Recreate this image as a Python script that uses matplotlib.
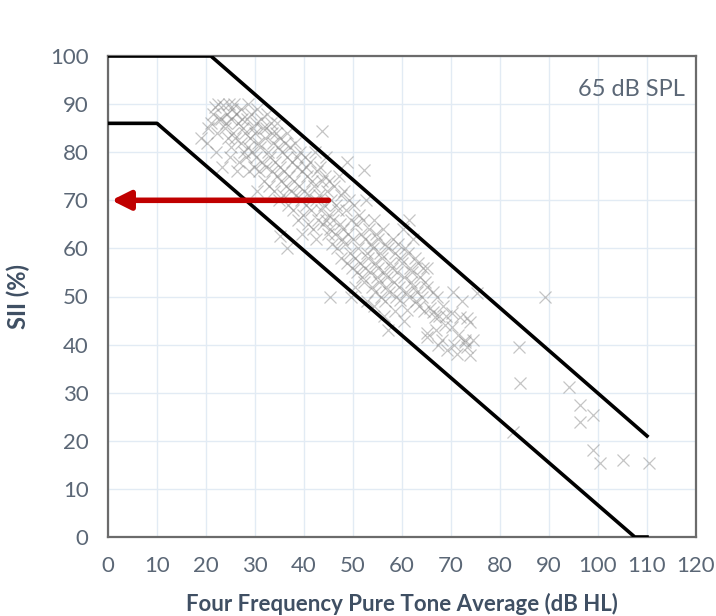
import matplotlib.pyplot as plt

# boundary lines of the expected SII range
upper_x = [0, 21, 110]
upper_y = [100, 100, 21]
lower_x = [0, 10, 107.5, 110]
lower_y = [86, 86, 0, 0]

# four frequency PTA (dB HL) and SII (%) per ear
pta = [
    19.0, 20.2, 20.5, 21.4, 21.0, 21.8, 22.3, 22.0, 22.6, 22.4,
    23.5, 23.1, 23.8, 23.3, 24.2, 24.6, 24.0, 24.4, 24.8, 25.3,
    25.0, 25.6, 25.2, 25.8, 26.2, 26.5, 26.0, 26.8, 26.4, 27.1,
    27.5, 27.2, 27.8, 27.4, 28.3, 28.0, 28.6, 28.2, 28.8, 28.5,
    29.2, 29.6, 29.0, 29.4, 29.8, 30.3, 30.0, 30.6, 30.2, 30.8,
    30.5, 30.4, 31.2, 31.6, 31.0, 31.4, 31.8, 32.3, 32.0, 32.6,
    32.2, 32.8, 32.5, 33.2, 33.6, 33.0, 33.4, 33.8, 33.5, 34.2,
    34.6, 34.0, 34.4, 34.8, 34.5, 35.2, 35.6, 35.0, 35.4, 35.8,
    35.1, 36.2, 36.6, 36.0, 36.4, 36.8, 36.5, 37.2, 37.6, 37.0,
    37.4, 37.8, 36.6, 38.2, 38.6, 38.0, 38.4, 38.8, 38.5, 39.2,
    39.6, 39.0, 39.4, 39.8, 39.5, 40.2, 40.6, 40.0, 40.4, 40.8,
    40.5, 41.2, 41.6, 41.0, 41.4, 41.8, 42.2, 42.6, 42.0, 42.4,
    42.8, 42.5, 43.2, 43.6, 43.0, 43.4, 43.8, 43.7, 44.2, 44.6,
    44.0, 44.4, 44.8, 44.5, 45.2, 45.6, 45.0, 45.4, 45.8, 45.3,
    46.2, 46.6, 46.0, 46.4, 46.8, 47.2, 47.6, 47.0, 47.4, 47.8,
    47.5, 48.2, 48.6, 48.0, 48.4, 48.8, 48.8, 49.2, 49.6, 49.0,
    49.4, 49.8, 49.5, 50.2, 50.6, 50.0, 50.4, 50.8, 50.5, 51.2,
    51.6, 51.0, 51.4, 51.8, 52.2, 52.6, 52.0, 52.4, 52.8, 52.5,
    52.3, 52.9, 53.2, 53.6, 53.0, 53.4, 53.8, 54.2, 54.6, 54.0,
    54.4, 54.8, 54.5, 54.3, 55.2, 55.6, 55.0, 55.4, 55.8, 56.2,
    56.6, 56.0, 56.4, 56.8, 56.5, 56.3, 57.2, 57.6, 57.0, 57.4,
    57.1, 58.2, 58.6, 58.0, 58.4, 58.8, 58.5, 59.2, 59.6, 59.0,
    59.4, 59.6, 60.2, 60.6, 60.0, 60.4, 60.8, 61.0, 60.5, 61.5,
    61.2, 61.6, 61.8, 61.4, 62.2, 62.6, 62.0, 62.4, 62.8, 63.2,
    63.6, 63.0, 63.4, 64.2, 64.6, 64.0, 64.4, 65.1, 65.0, 65.7,
    65.0, 65.1, 66.3, 66.7, 66.4, 67.2, 67.6, 67.0, 67.4, 68.2,
    68.4, 68.8, 69.2, 69.0, 70.4, 70.2, 70.2, 70.6, 71.8, 71.4,
    71.2, 72.2, 72.9, 73.3, 72.9, 73.9, 73.2, 73.9, 74.4, 75.3,
    89.2, 83.9, 84.0, 94.1, 96.3, 99.0, 96.3, 99.0, 100.4, 105.0,
    110.4, 82.6,
]
sii = [
    83, 82, 85, 88, 86, 89.5, 84, 80, 87, 90,
    89.8, 87, 85, 77, 88, 90, 86, 83, 79, 89,
    87, 84, 81, 90, 88, 86, 83, 78, 76, 89,
    85, 82, 80, 87, 87, 84, 81, 79, 76, 90,
    88, 85, 83, 80, 77, 86, 84, 82, 79, 76,
    89, 72, 87, 85, 81, 78, 74, 85, 83, 80,
    77, 73, 88, 86, 82, 79, 76, 72, 84, 84,
    81, 78, 75, 70, 86, 83, 80, 77, 74, 71,
    62.5, 82, 79, 76, 73, 69, 84, 81, 78, 75,
    72, 68, 60, 82, 77, 74, 71, 66, 79, 80,
    76, 73, 70, 67, 63, 79, 75, 72, 69, 65,
    77, 78, 74, 71, 68, 64, 80, 76, 73, 70,
    66, 62, 77, 74, 71, 68, 65, 84.4, 75, 72,
    69, 66, 63, 79, 74, 70, 67, 64, 61, 50,
    73, 69, 66, 63, 60, 75, 71, 68, 65, 62,
    58, 72, 68, 64, 61, 57, 78, 70, 66, 63,
    59, 56, 50, 69, 65, 62, 58, 55, 52, 67,
    63, 60, 57, 54, 76.3, 70, 66, 62, 59, 56,
    53, 49, 64, 61, 58, 55, 52, 66, 63, 60,
    57, 54, 51, 48, 62, 59, 56, 53, 50, 64,
    61, 58, 55, 52, 49, 46, 60, 57, 54, 51,
    43, 62, 59, 56, 53, 50, 47, 61, 58, 55,
    52, 49.3, 64, 60, 57, 54, 51, 47.2, 45, 66,
    59, 56, 53, 50, 62, 58, 55, 52, 49, 57,
    54, 51, 48, 56, 53, 50, 47, 56, 52, 47.6,
    41.6, 42.4, 46.8, 45.7, 51, 50, 46, 43, 40, 41,
    48, 44, 38.9, 46, 51, 46.6, 43.7, 40, 45.7, 42,
    38, 49, 40.5, 45.5, 41, 37.8, 39.5, 44.7, 41, 50.7,
    50, 39.5, 32, 31.2, 27.4, 25.4, 24, 18, 15.4, 16,
    15.4, 21.8,
]

x_ticks = list(range(0, 121, 10))
y_ticks = list(range(0, 101, 10))

plt.rcParams['font.family'] = ['Lato', 'DejaVu Sans']
tick_col = '#5b6776'
label_col = '#3f4f63'

fig = plt.figure(figsize=(7.16, 6.16), dpi=100)
ax = fig.add_axes([108 / 716, 79 / 616, 588 / 716, 481 / 616])

ax.grid(True, color='#e2ebf4', lw=1)
ax.set_axisbelow(True)

ax.plot(pta, sii, ls='none', marker='x', ms=9, mew=0.9,
        color='#8c8c8c', alpha=0.5, zorder=2)
ax.plot(upper_x, upper_y, color='black', lw=2.6, zorder=3,
        solid_joinstyle='round')
ax.plot(lower_x, lower_y, color='black', lw=2.6, zorder=3,
        solid_joinstyle='round')

ax.annotate('', xy=(0.7, 70), xytext=(45, 70),
            arrowprops=dict(arrowstyle='-|>', color='#c00000', lw=4,
                            mutation_scale=28, shrinkA=0, shrinkB=0),
            zorder=4)

ax.text(117.8, 93, '65 dB SPL', ha='right', va='center',
        fontsize=17, color=tick_col)

ax.set_xlim(0, 120)
ax.set_ylim(0, 100)
ax.set_xticks(x_ticks)
ax.set_yticks(y_ticks)
ax.tick_params(length=0, labelsize=16, labelcolor=tick_col)
ax.tick_params(axis='x', pad=14)
ax.tick_params(axis='y', pad=14)
for s in ax.spines.values():
    s.set_color('#6b6b6b')
    s.set_linewidth(1.6)

ax.set_xlabel('Four Frequency Pure Tone Average (dB HL)', fontsize=16,
              fontweight='bold', color=label_col, labelpad=12)
ax.set_ylabel('SII (%)', fontsize=17, fontweight='bold', color=label_col,
              labelpad=14)

fig.savefig('out.png', dpi=100)
